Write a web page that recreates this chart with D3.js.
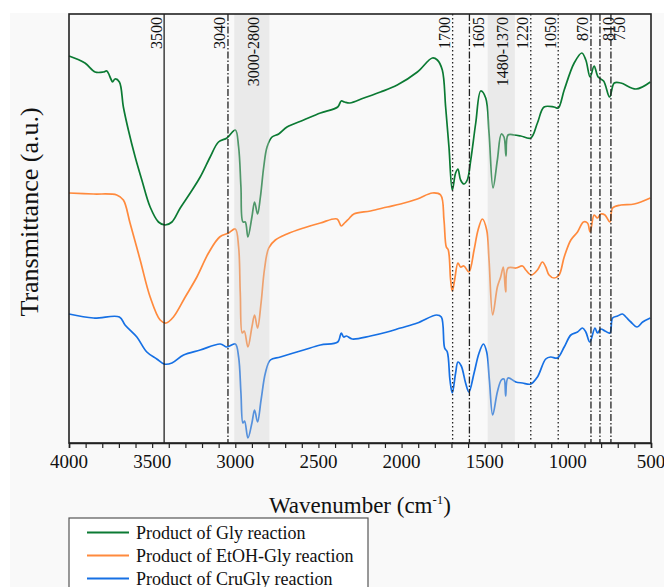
<!DOCTYPE html>
<html><head><meta charset="utf-8">
<script src="https://cdn.jsdelivr.net/npm/d3@7"></script>
<style>
html,body{margin:0;padding:0;background:#fff;}
svg{display:block;}
text{font-family:"Liberation Serif","Times New Roman",serif;fill:#111;}
</style></head>
<body><svg id="c" width="664" height="587"></svg>
<script>
// ---- data (wavenumber in cm-1, transmittance in arbitrary units) ----
const seriesNames = ["Product of Gly reaction","Product of EtOH-Gly reaction","Product of CruGly reaction"];
const seriesColors = ["#0b7a33","#ff8a3d","#1670e4"];

const glyWave = [4000,3904,3843,3793,3773,3748,3738,3723,3697,3673,3643,3602,3562,3512,3462,3422,3381,3331,3271,3211,3151,3101,3050,3000,2980,2966,2954,2940,2924,2900,2884,2866,2849,2829,2809,2779,2739,2689,2589,2488,2384,2363,2343,2311,2227,2127,2026,1905,1815,1785,1755,1735,1715,1695,1675,1661,1645,1625,1605,1584,1554,1524,1494,1474,1450,1424,1400,1384,1372,1360,1324,1283,1223,1183,1143,1083,1058,1022,962,916,892,866,842,818,785,749,721,681,590,504];
const glyVal  = [387,380,371,371,372,364,361,364,361,336,313,286,263,236,221,218,221,235,250,266,286,301,305,313,296,256,221,221,206,226,241,229,246,276,296,306,309,316,323,330,336,342,341,340,345,351,358,371,385,383,373,336,296,253,270,274,263,259,263,283,320,352,345,310,255,283,309,306,287,308,308,307,305,320,336,336,335,353,380,390,383,366,377,366,362,346,360,360,354,361];

const etohWave = [4000,3853,3713,3673,3633,3572,3512,3452,3416,3372,3301,3231,3161,3094,3040,3000,2980,2970,2958,2946,2924,2900,2884,2866,2845,2825,2799,2759,2689,2589,2488,2388,2363,2343,2318,2287,2187,2086,2006,1905,1815,1765,1745,1731,1719,1705,1695,1681,1661,1645,1625,1595,1564,1540,1514,1488,1474,1452,1424,1404,1388,1374,1360,1313,1273,1253,1219,1183,1153,1133,1113,1083,1053,1022,982,942,906,882,866,842,822,802,777,747,731,681,601,504];
const etohVal  = [250,249,248,243,220,183,146,123,120,126,146,166,190,206,210,214,196,150,110,112,96,116,128,115,140,173,195,203,209,215,220,224,217,220,224,229,232,236,239,244,250,248,223,196,193,163,152,163,180,176,177,171,193,213,224,213,183,128,156,166,176,151,175,175,177,173,168,173,181,176,168,165,168,186,203,211,221,220,211,228,225,229,228,221,235,238,239,245];

const cruWave = [4000,3853,3697,3663,3592,3532,3472,3428,3381,3311,3211,3090,3050,3000,2980,2966,2954,2944,2924,2900,2884,2866,2845,2819,2789,2729,2589,2488,2384,2363,2348,2331,2297,2187,2086,2006,1905,1789,1761,1741,1725,1709,1695,1675,1661,1641,1615,1595,1564,1534,1508,1488,1472,1452,1424,1400,1384,1374,1360,1313,1273,1223,1183,1133,1103,1063,1022,982,942,912,892,868,837,822,802,777,747,731,701,671,651,621,584,550,504];
const cruVal  = [129,125,126,118,106,91,84,79,80,88,93,99,96,99,86,50,20,22,5,20,33,21,43,70,83,86,93,98,101,110,106,107,104,107,111,115,120,128,126,95,91,63,50,70,81,77,60,51,70,90,99,91,63,28,51,63,64,47,65,61,60,59,66,84,86,85,96,108,111,115,111,101,115,110,114,112,110,125,127,129,126,121,116,121,125];

const xTicks = [4000,3500,3000,2500,2000,1500,1000,500];

const lineLabels = ["3500","3040","1700","1605","1220","1050","870","810","750"];
const linePos    = [3428,3044,1693,1592,1223,1058,861,807,741];
const lineDash   = ["solid","dashdot","dot","dashdot","dot","dot","dashdot","dashdot","dashdot"];
const lineSide   = ["L","L","L","R","L","L","L","R","R"];

const bandLabels = ["3000-2800","1480-1370"];
const bandFrom   = [3006,1482];
const bandTo     = [2795,1319];

// ---- layout ----
const svg = d3.select("#c");
const L = 69, R = 651, T = 14, B = 443;
const x = d3.scaleLinear().domain([4000,500]).range([L,R]);
const y = d3.scaleLinear().domain([0,429]).range([B,T]);

svg.append("rect").attr("x",10).attr("y",13).attr("width",654).attr("height",574).attr("fill","#f9f9f9");

const series = [
  {name:seriesNames[0], color:seriesColors[0], w:glyWave, v:glyVal},
  {name:seriesNames[1], color:seriesColors[1], w:etohWave, v:etohVal},
  {name:seriesNames[2], color:seriesColors[2], w:cruWave, v:cruVal}
];

const line = d3.line().x(d=>x(d[0])).y(d=>y(d[1])).curve(d3.curveCatmullRom.alpha(0.5));
series.forEach(s=>{
  svg.append("path").datum(s.w.map((w,i)=>[w,s.v[i]]))
    .attr("d",line).attr("fill","none").attr("stroke",s.color)
    .attr("stroke-width",1.7).attr("stroke-linejoin","round");
});

// shaded bands (overlay)
bandLabels.forEach((lab,i)=>{
  svg.append("rect").attr("x",x(bandFrom[i])).attr("y",T)
    .attr("width",x(bandTo[i])-x(bandFrom[i])).attr("height",B-T)
    .attr("fill","rgb(207,207,207)").attr("fill-opacity",0.35);
  const cx = (x(bandFrom[i])+x(bandTo[i]))/2 + 7;
  svg.append("text").attr("transform",`translate(${cx},17) rotate(-90)`)
    .attr("text-anchor","end").attr("font-size",16).text(lab);
});

// marker lines
const dashes = {solid:null, dashdot:"7,2,1.5,2", dot:"1.5,2.5"};
lineLabels.forEach((lab,i)=>{
  const px = x(linePos[i]);
  svg.append("line").attr("x1",px).attr("x2",px).attr("y1",T).attr("y2",B)
    .attr("stroke", lineDash[i]==="solid" ? "#111" : "#222")
    .attr("stroke-width", lineDash[i]==="solid" ? 1.2 : 1.3)
    .attr("stroke-dasharray",dashes[lineDash[i]]);
  const tx = lineSide[i]==="L" ? px-2.5 : px+14.5;
  svg.append("text").attr("transform",`translate(${tx},17) rotate(-90)`)
    .attr("text-anchor","end").attr("font-size",16).text(lab);
});

// frame
svg.append("rect").attr("x",L).attr("y",T).attr("width",R-L).attr("height",B-T)
  .attr("fill","none").attr("stroke","#222").attr("stroke-width",1.6);

// x axis
const ax = svg.append("g").attr("transform",`translate(0,${B})`)
  .call(d3.axisBottom(x).tickValues(d3.range(500,4001,100)).tickSize(5).tickFormat(""));
ax.select(".domain").attr("stroke","#222").attr("stroke-width",1.6);
ax.selectAll(".tick line").attr("stroke","#222").attr("stroke-width",1.2);
svg.append("g").selectAll("text").data(xTicks).join("text")
  .attr("x",d=>x(d)).attr("y",B+25).attr("text-anchor","middle").attr("font-size",19)
  .text(d=>d);

// axis titles
const xt = svg.append("text").attr("x",(L+R)/2).attr("y",513).attr("text-anchor","middle").attr("font-size",23);
xt.append("tspan").text("Wavenumber (cm");
xt.append("tspan").attr("font-size",13).attr("dy",-9).text("-1");
xt.append("tspan").attr("dy",9).text(")");

svg.append("text").attr("transform","translate(38,212) rotate(-90)")
  .attr("text-anchor","middle").attr("font-size",26).text("Transmittance (a.u.)");

// legend
svg.append("rect").attr("x",69).attr("y",518).attr("width",299).attr("height",90)
  .attr("fill","#fff").attr("stroke","#555").attr("stroke-width",1.2);
series.forEach((s,i)=>{
  const ly = 532.5 + i*23;
  svg.append("line").attr("x1",87).attr("x2",129).attr("y1",ly).attr("y2",ly)
    .attr("stroke",s.color).attr("stroke-width",1.8);
  svg.append("text").attr("x",136).attr("y",ly+6).attr("font-size",18).text(s.name);
});
</script></body></html>
